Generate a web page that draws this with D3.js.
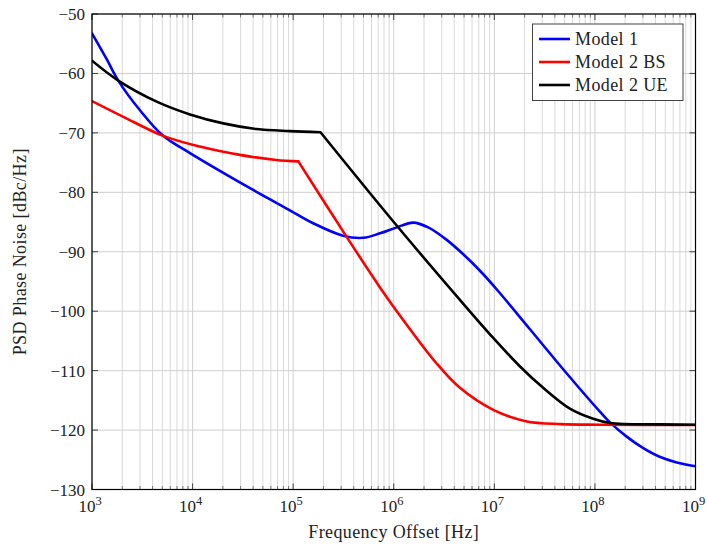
<!DOCTYPE html>
<html><head><meta charset="utf-8">
<script src="https://cdn.jsdelivr.net/npm/d3@7"></script>
<style>body{margin:0;background:#fff}svg{display:block}text{font-family:"Liberation Serif","DejaVu Serif",serif;fill:#222}</style>
</head><body><svg id="c" width="707" height="547"></svg>
<script>
const seriesNames = ["Model 1", "Model 2 BS", "Model 2 UE"];
const seriesColors = ["#0000ff", "#ff0000", "#000000"];
const model1Freq = [1e3, 1400, 1825, 3000, 5100, 9420, 40000, 7.4e4, 1.17e5, 1.58e5, 3.13e5, 4.98e5, 7.3e5, 1.07e6, 1.56e6, 2.2e6, 3.36e6, 5e6, 7.2e6, 1.09e7, 2.25e7, 5.2e7, 1.12e8, 1.41e8, 2.07e8, 3.0e8, 4.4e8, 6.5e8, 1e9];
const model1Val  = [-53.25, -57.6, -61.2, -66.2, -70.5, -73.4, -79.6, -82.1, -84.0, -85.2, -87.3, -87.65, -86.9, -85.9, -85.1, -85.9, -88.0, -90.55, -93.2, -96.6, -103.0, -110.4, -116.9, -118.7, -121.1, -123.0, -124.5, -125.45, -126.1];
const model1Kinks = [];
const bsFreq = [1e3, 2050, 5100, 11800, 29500, 67800, 1.125e5, 3.4e5, 7.3e5, 9.9e5, 2.67e6, 4.55e6, 9.75e6, 2.05e7, 4.6e7, 1.12e8, 1e9];
const bsVal  = [-64.65, -67.3, -70.5, -72.3, -73.7, -74.56, -74.8, -87.5, -96.0, -99.2, -108.8, -112.9, -116.6, -118.5, -119.0, -119.1, -119.15];
const bsKinks = [1.125e5];
const ueFreq = [1e3, 1825, 4400, 9420, 20200, 43300, 92900, 1.87e5, 1e6, 4.55e6, 9.75e6, 1.8e7, 3.06e7, 5.64e7, 9.6e7, 1.41e8, 4.4e8, 1e9];
const ueVal  = [-57.85, -61.2, -64.75, -66.9, -68.4, -69.35, -69.7, -69.9, -85.0, -98.1, -104.5, -109.3, -112.9, -116.4, -118.1, -118.8, -119.05, -119.1];
const ueKinks = [1.87e5];
const yTicks = [-130, -120, -110, -100, -90, -80, -70, -60, -50];
const xTickExps = [3, 4, 5, 6, 7, 8, 9];
const xLabel = "Frequency Offset [Hz]";
const yLabel = "PSD Phase Noise [dBc/Hz]";

const L = 92, R = 695.5, T = 14, B = 489.5;
const svg = d3.select("#c");
const x = d3.scaleLog().domain([1e3, 1e9]).range([L, R]);
const y = d3.scaleLinear().domain([-130, -50]).range([B, T]);

const minorX = [];
for (let e = 3; e < 9; e++) for (let m = 2; m <= 9; m++) minorX.push(m * Math.pow(10, e));
const g = svg.append("g");
g.selectAll(".mx").data(minorX).enter().append("line")
  .attr("x1", d => x(d)).attr("x2", d => x(d)).attr("y1", T).attr("y2", B)
  .attr("stroke", "#d9d9d9").attr("stroke-width", 1);
g.selectAll(".Mx").data(xTickExps.map(e => Math.pow(10, e))).enter().append("line")
  .attr("x1", d => x(d)).attr("x2", d => x(d)).attr("y1", T).attr("y2", B)
  .attr("stroke", "#cfcfcf").attr("stroke-width", 1);
g.selectAll(".gy").data(yTicks).enter().append("line")
  .attr("x1", L).attr("x2", R).attr("y1", d => y(d)).attr("y2", d => y(d))
  .attr("stroke", "#cfcfcf").attr("stroke-width", 1);

const tk = svg.append("g").attr("stroke", "#444").attr("stroke-width", 1);
xTickExps.forEach(e => {
  const px = x(Math.pow(10, e));
  tk.append("line").attr("x1", px).attr("x2", px).attr("y1", B).attr("y2", B - 6);
  tk.append("line").attr("x1", px).attr("x2", px).attr("y1", T).attr("y2", T + 6);
});
minorX.forEach(d => {
  const px = x(d);
  tk.append("line").attr("x1", px).attr("x2", px).attr("y1", B).attr("y2", B - 3.5).attr("stroke", "#777");
  tk.append("line").attr("x1", px).attr("x2", px).attr("y1", T).attr("y2", T + 3.5).attr("stroke", "#777");
});
yTicks.forEach(v => {
  tk.append("line").attr("x1", L).attr("x2", L + 6).attr("y1", y(v)).attr("y2", y(v));
  tk.append("line").attr("x1", R).attr("x2", R - 6).attr("y1", y(v)).attr("y2", y(v));
});

svg.append("clipPath").attr("id", "pc").append("rect")
  .attr("x", L).attr("y", T).attr("width", R - L).attr("height", B - T);
const line = d3.line().x(d => x(d[0])).y(d => y(d[1])).curve(d3.curveCatmullRom.alpha(0.5));
function segments(fr, vals, kinks) {
  const pts = d3.zip(fr, vals);
  const segs = [];
  let cur = [];
  pts.forEach(p => {
    cur.push(p);
    if (kinks.includes(p[0])) { segs.push(cur); cur = [p]; }
  });
  if (cur.length > 1) segs.push(cur);
  return segs;
}
const all = [
  segments(model1Freq, model1Val, model1Kinks),
  segments(bsFreq, bsVal, bsKinks),
  segments(ueFreq, ueVal, ueKinks)
];
const cg = svg.append("g").attr("clip-path", "url(#pc)");
all.forEach((segs, i) => {
  const dstr = segs.map(s => line(s)).join("");
  cg.append("path").attr("d", dstr).attr("fill", "none")
    .attr("stroke", seriesColors[i]).attr("stroke-width", 2.6)
    .attr("stroke-linejoin", "round").attr("stroke-linecap", "round");
});

svg.append("rect").attr("x", L).attr("y", T).attr("width", R - L).attr("height", B - T)
  .attr("fill", "none").attr("stroke", "#000").attr("stroke-width", 1.2);

svg.selectAll(".yl").data(yTicks).enter().append("text")
  .attr("x", L - 7).attr("y", d => y(d) + 6).attr("text-anchor", "end")
  .attr("font-size", 17).text(d => "\u2212" + Math.abs(d));

xTickExps.forEach(e => {
  const t = svg.append("text").attr("x", x(Math.pow(10, e)) - 2).attr("y", 512)
    .attr("text-anchor", "middle").attr("font-size", 17);
  t.append("tspan").text("10");
  t.append("tspan").attr("dy", -7.5).attr("font-size", 12.5).text(e);
});

svg.append("text").attr("x", (L + R) / 2).attr("y", 538).attr("text-anchor", "middle")
  .attr("font-size", 18).attr("letter-spacing", 0.4).text(xLabel);
svg.append("text").attr("transform", `translate(26,${(T + B) / 2}) rotate(-90)`)
  .attr("text-anchor", "middle").attr("font-size", 18).attr("letter-spacing", 0.4).text(yLabel);

const lg = svg.append("g");
lg.append("rect").attr("x", 532.5).attr("y", 24).attr("width", 150.5).attr("height", 76.5)
  .attr("fill", "#fff").attr("stroke", "#444").attr("stroke-width", 1);
seriesNames.forEach((n, i) => {
  const yy = 39 + i * 23;
  lg.append("line").attr("x1", 539).attr("x2", 570).attr("y1", yy).attr("y2", yy)
    .attr("stroke", seriesColors[i]).attr("stroke-width", 2.6);
  lg.append("text").attr("x", 575).attr("y", yy + 5.7).attr("font-size", 18)
    .attr("letter-spacing", 0.4).text(n);
});
</script></body></html>
